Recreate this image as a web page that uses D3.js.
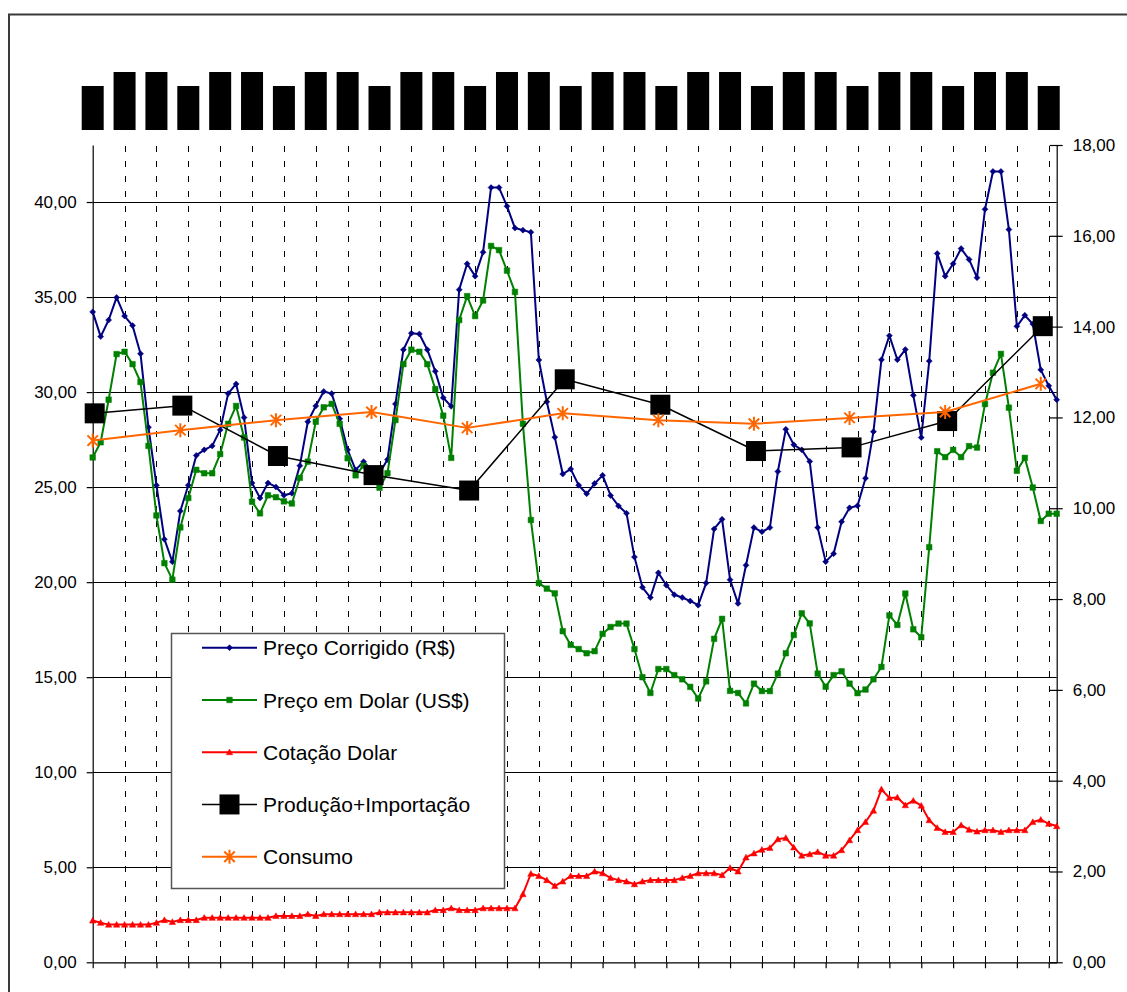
<!DOCTYPE html>
<html><head><meta charset="utf-8">
<script src="https://cdn.jsdelivr.net/npm/d3@7"></script>
<style>
body{margin:0;background:#fff}
svg{display:block}
text{font-family:"Liberation Sans",Arial,sans-serif;fill:#000}
</style>
</head><body>
<svg id="chart" width="1127" height="992"></svg>
<script>
// ---- data ----
const categories = d3.range(122); // monthly categories (index)
const labelCategories = categories.filter(i => i % 4 === 0); // one label every 4 months
const annualCategories = [0, 11, 23, 35, 47, 59, 71, 83, 95, 107, 119];

const precoCorrigido = [34.22,32.92,33.79,34.98,34.00,33.50,32.02,28.15,25.10,22.26,21.07,23.74,25.10,26.67,26.96,27.17,28.01,29.92,30.43,28.66,
25.22,24.43,25.22,25.01,24.57,24.68,26.13,28.44,29.27,30.03,29.92,28.60,26.96,25.91,26.34,25.90,25.73,26.45,29.38,32.23,
33.10,33.06,32.23,31.09,29.70,29.25,35.39,36.75,36.10,37.36,40.76,40.76,39.78,38.63,38.52,38.41,31.69,29.49,27.63,25.69,
25.95,25.10,24.65,25.19,25.62,24.56,24.01,23.63,21.32,19.73,19.19,20.49,19.84,19.34,19.19,19.01,18.79,19.95,22.80,23.31,
20.13,18.88,20.89,22.87,22.65,22.87,25.82,28.04,27.23,26.96,26.35,22.87,21.08,21.50,23.18,23.91,24.02,25.47,27.92,31.70,
32.97,31.70,32.24,29.83,27.61,31.63,37.29,36.10,36.75,37.55,36.98,36.02,39.62,41.61,41.61,38.55,33.46,34.04,33.58,31.17,
30.33,29.60];

const precoDolar = [26.56,27.36,29.60,32.00,32.12,31.47,30.53,27.17,23.51,21.00,20.13,22.88,24.43,25.91,25.73,25.73,26.74,28.33,29.27,27.61,
24.23,23.62,24.57,24.47,24.25,24.14,25.49,26.34,28.44,29.20,29.38,28.33,26.52,25.62,26.13,25.90,24.97,25.73,28.53,31.47,
32.23,32.12,31.47,30.16,28.76,26.54,33.79,35.05,34.00,34.82,37.69,37.47,36.39,35.27,28.33,23.27,19.95,19.66,19.41,17.42,
16.70,16.48,16.26,16.37,17.28,17.64,17.82,17.82,16.48,15.00,14.17,15.43,15.43,15.11,14.89,14.49,13.88,14.78,17.02,18.07,
14.28,14.17,13.62,14.66,14.27,14.27,15.19,16.26,17.22,18.36,17.83,15.19,14.50,15.11,15.31,14.66,14.16,14.35,14.89,15.54,
18.25,17.75,19.40,17.52,17.10,21.84,26.89,26.58,26.96,26.58,27.16,27.08,29.37,31.02,32.01,29.18,25.86,26.54,24.98,23.22,
23.60,23.60];

const cotacaoDolar = [0.92,0.87,0.83,0.83,0.83,0.83,0.83,0.83,0.87,0.93,0.89,0.93,0.93,0.93,0.98,0.98,0.98,0.98,0.98,0.98,
0.98,0.98,0.98,1.02,1.02,1.02,1.02,1.06,1.02,1.06,1.06,1.06,1.06,1.06,1.06,1.06,1.10,1.10,1.10,1.10,
1.10,1.10,1.10,1.15,1.15,1.19,1.15,1.15,1.15,1.19,1.19,1.19,1.19,1.19,1.50,1.95,1.90,1.81,1.68,1.78,
1.90,1.90,1.90,2.00,1.96,1.86,1.81,1.78,1.72,1.78,1.81,1.81,1.81,1.81,1.86,1.90,1.96,1.96,1.96,1.92,
2.08,2.00,2.31,2.40,2.48,2.52,2.71,2.74,2.53,2.35,2.38,2.43,2.35,2.35,2.47,2.69,2.91,3.09,3.34,3.81,
3.62,3.63,3.46,3.56,3.45,3.13,2.96,2.87,2.87,3.02,2.92,2.88,2.91,2.91,2.87,2.91,2.91,2.91,3.09,3.14,
3.05,3.00];

const producaoImportacao = [12.09,12.26,11.15,10.73,10.39,12.84,12.28,11.26,11.34,11.92,14.01];
const consumo = [11.49,11.72,11.94,12.12,11.77,12.09,11.94,11.86,11.99,12.12,12.74];

const leftTickValues = [0,5,10,15,20,25,30,35,40];
const leftTickLabels = ["0,00","5,00","10,00","15,00","20,00","25,00","30,00","35,00","40,00"];
const rightTickValues = [0,2,4,6,8,10,12,14,16,18];
const rightTickLabels = ["0,00","2,00","4,00","6,00","8,00","10,00","12,00","14,00","16,00","18,00"];

const seriesNames = ["Preço Corrigido (R$)","Preço em Dolar (US$)","Cotação Dolar","Produção+Importação","Consumo"];

// ---- layout ----
const L = 92.7, R = 1056.7, T = 145, B = 962.3;
const svg = d3.select("#chart");

const x = d3.scaleLinear().domain([0, categories.length - 1]).range([L, R]);
const yL = d3.scaleLinear().domain([0, 43]).range([B, T]);
const yR = d3.scaleLinear().domain([0, 18]).range([B, T]);

// outer border
svg.append("rect").attr("x", 9).attr("y", 14.5).attr("width", 1200).attr("height", 1200)
  .attr("fill", "none").attr("stroke", "#3a3a3a").attr("stroke-width", 2);

// top label blocks (unreadable rotated category labels)
svg.append("g").selectAll("rect").data(labelCategories).join("rect")
  .attr("x", d => x(d) - 11).attr("width", 22)
  .attr("y", d => ((d / 4) % 3 === 0) ? 86 : 72)
  .attr("height", d => ((d / 4) % 3 === 0) ? 44 : 58)
  .attr("fill", "#000");

// horizontal gridlines
svg.append("g").selectAll("line").data(leftTickValues.filter(v => v > 0)).join("line")
  .attr("x1", L).attr("x2", R).attr("y1", d => Math.round(yL(d)) + 0.5).attr("y2", d => Math.round(yL(d)) + 0.5)
  .attr("stroke", "#000").attr("stroke-width", 1);

// vertical dashed lines
svg.append("g").selectAll("line").data(labelCategories.filter(d => d > 0)).join("line")
  .attr("x1", d => Math.round(x(d)) + 0.5).attr("x2", d => Math.round(x(d)) + 0.5)
  .attr("y1", T).attr("y2", B)
  .attr("stroke", "#000").attr("stroke-width", 1).attr("stroke-dasharray", "6,9").attr("stroke-dashoffset", -1);

// axes
const gL = svg.append("g").attr("transform", `translate(${L},0)`)
  .call(d3.axisLeft(yL).tickValues(leftTickValues).tickFormat((d, i) => leftTickLabels[i]).tickSize(6).tickSizeOuter(0).tickPadding(10));
const gR = svg.append("g").attr("transform", `translate(${R},0)`)
  .call(d3.axisRight(yR).tickValues(rightTickValues).tickFormat((d, i) => rightTickLabels[i]).tickSize(6).tickSizeOuter(0).tickPadding(10));
gR.selectAll(".tick line").attr("x1", -7);
const gB = svg.append("g").attr("transform", `translate(0,${B})`)
  .call(d3.axisBottom(x).tickValues(labelCategories).tickFormat("").tickSize(6).tickSizeOuter(0));
[gL, gR, gB].forEach(g => {
  g.selectAll("path.domain").attr("stroke", "#000").attr("stroke-width", 1.2);
  g.selectAll(".tick line").attr("stroke", "#000").attr("stroke-width", 1.2);
  g.selectAll("text").attr("font-size", 17).attr("font-family", '"Liberation Sans",Arial,sans-serif').attr("fill", "#000");
});

// marker paths
const diamond = s => `M0,${-s}L${s},0L0,${s}L${-s},0Z`;
const square = s => `M${-s},${-s}H${s}V${s}H${-s}Z`;
const triangle = s => `M0,${-s}L${s},${s * 0.8}L${-s},${s * 0.8}Z`;
const asterisk = s => `M0,${-s}V${s}M${-s * 0.75},${-s * 0.75}L${s * 0.75},${s * 0.75}M${s * 0.75},${-s * 0.75}L${-s * 0.75},${s * 0.75}`;

function drawSeries(cats, vals, yScale, color, width, markerPath, fill, markerStroke, dx) {
  const g = svg.append("g").attr("transform", `translate(${dx || 0},0)`);
  const pts = cats.map((c, i) => [x(c), yScale(vals[i])]);
  g.append("path").attr("d", d3.line()(pts)).attr("fill", "none").attr("stroke", color)
    .attr("stroke-width", width).attr("stroke-linejoin", "round");
  g.selectAll("path.m").data(pts).join("path").attr("class", "m")
    .attr("transform", d => `translate(${d[0]},${d[1]})`)
    .attr("d", markerPath).attr("fill", fill).attr("stroke", markerStroke.color).attr("stroke-width", markerStroke.width);
}

drawSeries(categories, precoCorrigido, yL, "#000080", 2, diamond(3), "#000080", {color: "#000080", width: 0.5});
drawSeries(categories, precoDolar, yL, "#008000", 2, square(2.8), "#008000", {color: "#008000", width: 0.5});
drawSeries(categories, cotacaoDolar, yR, "#ff0000", 2, triangle(3.2), "#ff0000", {color: "#ff0000", width: 0.5});
drawSeries(annualCategories, producaoImportacao, yR, "#000", 1.5, square(10), "#000", {color: "#000", width: 0}, 2);
drawSeries(annualCategories, consumo, yR, "#ff6600", 2, asterisk(7), "none", {color: "#ff6600", width: 2});

// legend
const lg = svg.append("g");
lg.append("rect").attr("x", 171.5).attr("y", 633.5).attr("width", 333).attr("height", 255)
  .attr("fill", "#fff").attr("stroke", "#555").attr("stroke-width", 1.5);
const legendStyles = [
  {color: "#000080", w: 2, m: diamond(3), fill: "#000080", ms: 0.5},
  {color: "#008000", w: 2, m: square(2.8), fill: "#008000", ms: 0.5},
  {color: "#ff0000", w: 2, m: triangle(3.2), fill: "#ff0000", ms: 0.5},
  {color: "#000", w: 1.5, m: square(10), fill: "#000", ms: 0},
  {color: "#ff6600", w: 2, m: asterisk(7), fill: "none", ms: 2}
];
const legendY = d3.scaleLinear().domain([0, 4]).range([647.7, 856.7]);
seriesNames.forEach((name, i) => {
  const st = legendStyles[i], yy = legendY(i);
  lg.append("line").attr("x1", 202).attr("x2", 257).attr("y1", yy).attr("y2", yy)
    .attr("stroke", st.color).attr("stroke-width", st.w);
  lg.append("path").attr("transform", `translate(229.5,${yy})`).attr("d", st.m)
    .attr("fill", st.fill).attr("stroke", st.color).attr("stroke-width", st.ms);
  lg.append("text").attr("x", 263).attr("y", yy).attr("dy", "0.36em")
    .attr("font-size", 21).text(name);
});
</script>
</body></html>
